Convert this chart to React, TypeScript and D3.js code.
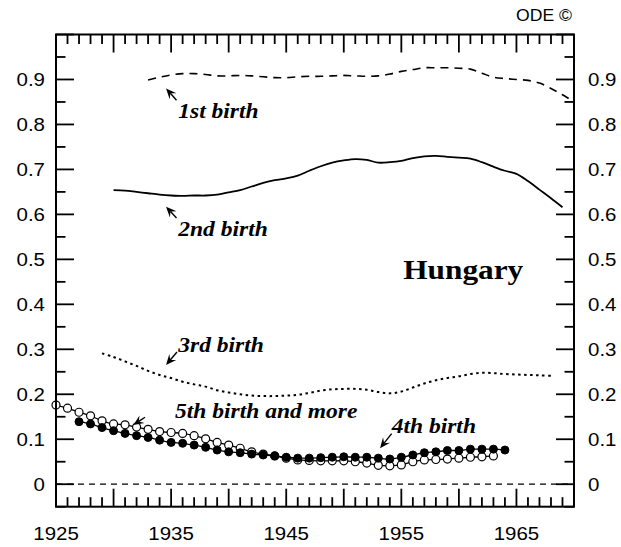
import React from "react";
import * as d3 from "d3";

const W = 621;
const H = 547;

// Data (rates by birth cohort year)
const firstYears = d3.range(1933, 1971);
const firstBirth = [0.899, 0.905, 0.910, 0.913, 0.913, 0.911, 0.908, 0.908, 0.909, 0.908, 0.906, 0.904, 0.904, 0.906, 0.907, 0.907, 0.908, 0.909, 0.908, 0.907, 0.908, 0.912, 0.918, 0.922, 0.926, 0.926, 0.926, 0.925, 0.923, 0.914, 0.905, 0.902, 0.900, 0.898, 0.892, 0.880, 0.866, 0.850];

const secondYears = d3.range(1930, 1970);
const secondBirth = [0.654, 0.653, 0.650, 0.647, 0.644, 0.642, 0.641, 0.642, 0.642, 0.644, 0.649, 0.654, 0.662, 0.670, 0.676, 0.680, 0.686, 0.697, 0.707, 0.715, 0.720, 0.723, 0.721, 0.715, 0.716, 0.719, 0.725, 0.729, 0.730, 0.728, 0.726, 0.724, 0.716, 0.706, 0.697, 0.690, 0.674, 0.655, 0.636, 0.616];

const thirdYears = d3.range(1929, 1969);
const thirdBirth = [0.291, 0.283, 0.273, 0.263, 0.252, 0.243, 0.236, 0.228, 0.222, 0.217, 0.209, 0.204, 0.200, 0.197, 0.196, 0.196, 0.197, 0.199, 0.203, 0.208, 0.211, 0.212, 0.212, 0.210, 0.205, 0.202, 0.206, 0.215, 0.224, 0.231, 0.236, 0.240, 0.245, 0.248, 0.247, 0.245, 0.244, 0.243, 0.242, 0.241];

const fourthYears = d3.range(1927, 1965);
const fourthBirth = [0.139, 0.134, 0.126, 0.119, 0.113, 0.108, 0.104, 0.098, 0.093, 0.091, 0.087, 0.082, 0.076, 0.072, 0.070, 0.067, 0.065, 0.063, 0.060, 0.058, 0.058, 0.059, 0.060, 0.061, 0.060, 0.060, 0.058, 0.056, 0.060, 0.065, 0.070, 0.072, 0.075, 0.075, 0.078, 0.078, 0.078, 0.076];

const fifthYears = d3.range(1925, 1964);
const fifthBirth = [0.176, 0.169, 0.160, 0.152, 0.141, 0.134, 0.132, 0.127, 0.122, 0.117, 0.115, 0.113, 0.108, 0.101, 0.093, 0.087, 0.080, 0.072, 0.067, 0.063, 0.058, 0.054, 0.053, 0.052, 0.052, 0.052, 0.050, 0.047, 0.042, 0.041, 0.043, 0.050, 0.054, 0.055, 0.056, 0.058, 0.060, 0.061, 0.063];

const xTickLabels = [1925, 1935, 1945, 1955, 1965];
const yTickLabels = [0, 0.1, 0.2, 0.3, 0.4, 0.5, 0.6, 0.7, 0.8, 0.9];

// annotations in data units: label, text anchor (year, value), arrow tail, arrow head
const annotations = [
  { label: "1st birth", tx: 1935.62, ty: 0.8137, ax1: 1935.47, ay1: 0.854, ax2: 1934.56, ay2: 0.880 },
  { label: "2nd birth", tx: 1935.62, ty: 0.552, ax1: 1935.47, ay1: 0.592, ax2: 1934.56, ay2: 0.617 },
  { label: "3rd birth", tx: 1935.62, ty: 0.2933, ax1: 1935.51, ay1: 0.294, ax2: 1934.56, ay2: 0.265 },
  { label: "5th birth and more", tx: 1935.34, ty: 0.1465, ax1: 1932.73, ay1: 0.149, ax2: 1931.72, ay2: 0.1316 },
  { label: "4th birth", tx: 1954.16, ty: 0.1132, ax1: 1954.16, ay1: 0.1125, ax2: 1953.15, ay2: 0.0800 },
];

const SANS = "'Liberation Sans', Arial, Helvetica, sans-serif";
const SERIF = "'Liberation Serif', 'Times New Roman', serif";

function arrowPath(x1: number, y1: number, x2: number, y2: number) {
  const dx = x2 - x1, dy = y2 - y1;
  const len = Math.sqrt(dx * dx + dy * dy);
  const ux = dx / len, uy = dy / len;
  const px = -uy, py = ux;
  const hl = 10.5, hw = 4.5, notch = 6.5;
  const bx = x2 - ux * hl, by = y2 - uy * hl;
  const nx = x2 - ux * notch, ny = y2 - uy * notch;
  const shaft = `M${x1},${y1}L${nx},${ny}`;
  const head = `M${x2},${y2}L${bx + px * hw},${by + py * hw}L${nx},${ny}L${bx - px * hw},${by - py * hw}Z`;
  return { shaft, head };
}

type TProps = { x: number; y: number; sx?: number; anchor?: string; family: string; size: number; weight?: string; italic?: boolean; dy?: string; children: React.ReactNode };
function SText({ x, y, sx = 1.1, anchor = "start", family, size, weight, italic, dy, children }: TProps) {
  return (
    <text
      transform={`translate(${x},${y}) scale(${sx},1)`}
      textAnchor={anchor}
      fontFamily={family}
      fontSize={size}
      fontWeight={weight}
      fontStyle={italic ? "italic" : undefined}
      dy={dy}
    >
      {children}
    </text>
  );
}

export default function App() {
  const x = d3.scaleLinear().domain([1925, 1970]).range([56, 574]);
  const y = d3.scaleLinear().domain([-0.05, 1.0]).range([506.7, 34.5]);
  const line = d3
    .line<[number, number]>()
    .x((d) => x(d[0]))
    .y((d) => y(d[1]))
    .curve(d3.curveCatmullRom.alpha(0.5));
  const zip = (a: number[], b: number[]) => a.map((v, i) => [v, b[i]] as [number, number]);

  const [x0, x1] = x.range();
  const [yb, yt] = y.range();

  const yearTicks = d3.range(1925, 1971);
  const valTicks = d3.range(-1, 21).map((i) => ({ v: i * 0.05, major: i % 2 === 0 }));

  const first = zip(firstYears, firstBirth);
  const second = zip(secondYears, secondBirth);
  const third = zip(thirdYears, thirdBirth);
  const fourth = zip(fourthYears, fourthBirth);
  const fifth = zip(fifthYears, fifthBirth);

  return (
    <svg width={W} height={H} style={{ position: "absolute", left: 0, top: 0, background: "#fff" }}>
      <rect x={0} y={0} width={W} height={H} fill="#fff" />
      {/* zero dashed line */}
      <line x1={x0} x2={x1} y1={y(0)} y2={y(0)} stroke="#000" strokeWidth={1.2} strokeDasharray="6,5" />

      {/* curves */}
      <path d={line(first) || ""} fill="none" stroke="#000" strokeWidth={1.6} strokeDasharray="8,6" />
      <path d={line(second) || ""} fill="none" stroke="#000" strokeWidth={1.8} />
      <path d={line(third) || ""} fill="none" stroke="#000" strokeWidth={2} strokeDasharray="2.5,3.5" />
      <path d={line(fifth) || ""} fill="none" stroke="#000" strokeWidth={1.3} />
      <path d={line(fourth) || ""} fill="none" stroke="#000" strokeWidth={1.3} />
      {fifth.map((d, i) => (
        <circle key={"o" + i} cx={x(d[0])} cy={y(d[1])} r={4} fill="#fff" stroke="#000" strokeWidth={1.2} />
      ))}
      {fourth.map((d, i) => (
        <circle key={"f" + i} cx={x(d[0])} cy={y(d[1])} r={4} fill="#000" stroke="#000" strokeWidth={1} />
      ))}

      {/* annotations */}
      {annotations.map((a, i) => {
        const p = arrowPath(x(a.ax1), y(a.ay1), x(a.ax2), y(a.ay2));
        return (
          <g key={"a" + i}>
            <path d={p.shaft} stroke="#000" strokeWidth={1.4} fill="none" />
            <path d={p.head} fill="#000" />
            <SText x={x(a.tx)} y={y(a.ty)} sx={1.07} family={SERIF} italic weight="bold" size={22}>
              {a.label}
            </SText>
          </g>
        );
      })}
      <text x={x(1955.17)} y={y(0.4556)} fontFamily={SERIF} fontWeight="bold" fontSize={27} textLength={120} lengthAdjust="spacingAndGlyphs">
        Hungary
      </text>

      {/* ticks */}
      {yearTicks.map((yr) => {
        const len = yr % 5 === 0 ? 18 : 9.5;
        return (
          <g key={"xt" + yr}>
            <line x1={x(yr)} x2={x(yr)} y1={yb} y2={yb - len} stroke="#000" strokeWidth={1.8} />
            <line x1={x(yr)} x2={x(yr)} y1={yt} y2={yt + len} stroke="#000" strokeWidth={1.8} />
          </g>
        );
      })}
      {valTicks.map((t, i) => {
        const len = t.major ? 18 : 9.5;
        return (
          <g key={"yt" + i}>
            <line x1={x0} x2={x0 + len} y1={y(t.v)} y2={y(t.v)} stroke="#000" strokeWidth={1.8} />
            <line x1={x1} x2={x1 - len} y1={y(t.v)} y2={y(t.v)} stroke="#000" strokeWidth={1.8} />
          </g>
        );
      })}

      {/* frame */}
      <rect x={x0} y={yt} width={x1 - x0} height={yb - yt} fill="none" stroke="#000" strokeWidth={2} />

      {/* tick labels */}
      {xTickLabels.map((yr) => (
        <SText key={"xl" + yr} x={x(yr)} y={540} anchor="middle" family={SANS} size={18.6}>
          {yr}
        </SText>
      ))}
      {yTickLabels.map((v) => (
        <g key={"yl" + v}>
          <SText x={45} y={y(v)} dy="0.36em" anchor="end" family={SANS} size={18.6}>
            {v === 0 ? "0" : v.toFixed(1)}
          </SText>
          <SText x={588} y={y(v)} dy="0.36em" anchor="start" family={SANS} size={18.6}>
            {v === 0 ? "0" : v.toFixed(1)}
          </SText>
        </g>
      ))}
      <SText x={572} y={21} anchor="end" family={SANS} size={16}>
        ODE ©
      </SText>
    </svg>
  );
}
